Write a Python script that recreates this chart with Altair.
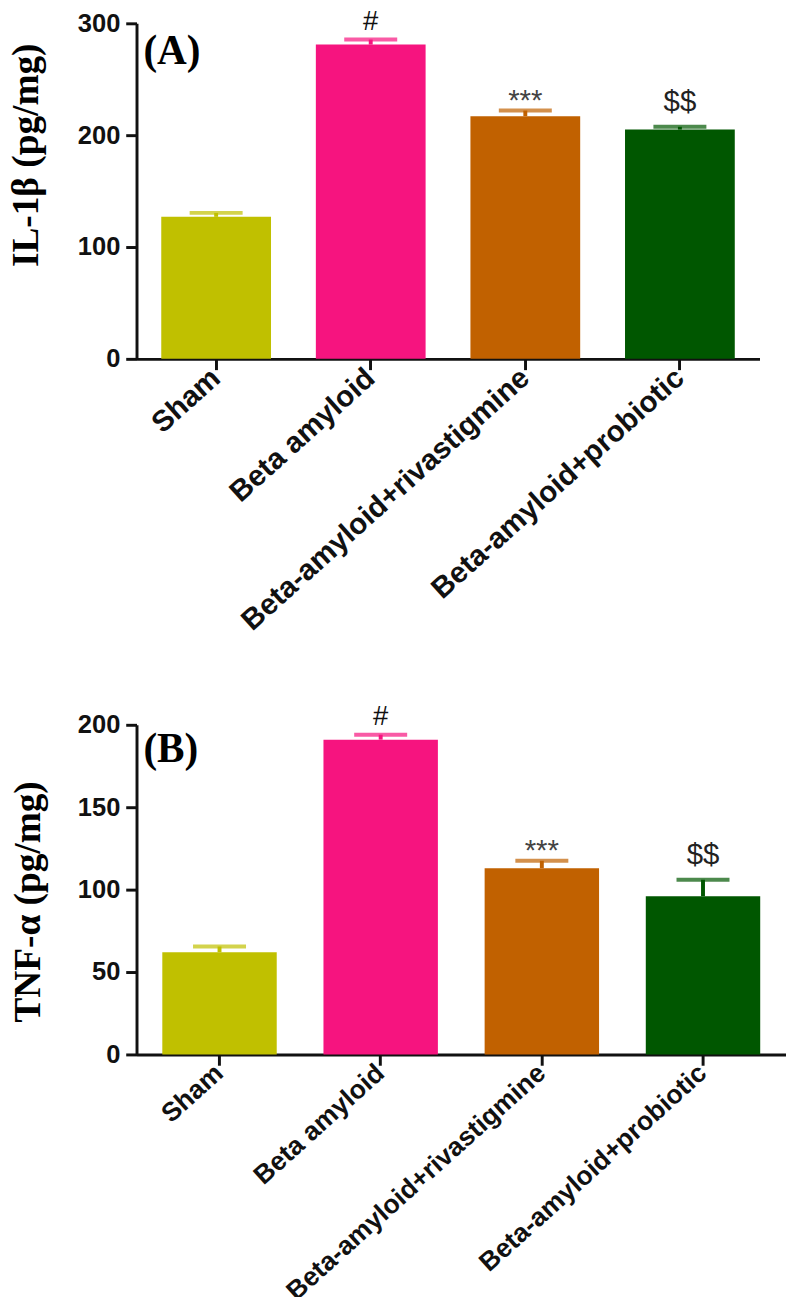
import altair as alt
import pandas as pd

groups = ["Sham", "Beta amyloid", "Beta-amyloid+rivastigmine", "Beta-amyloid+probiotic"]
bar_colors = ["#C0C000", "#F6147F", "#C16100", "#005700"]
sig_labels = ["", "#", "***", "$$"]

il1b_mean = [127, 281, 217, 205]
il1b_sem = [3.5, 4.5, 5, 2.5]
il1b_ticks = [0, 100, 200, 300]

tnf_mean = [62, 191, 113, 96]
tnf_sem = [3.5, 3, 4.5, 10]
tnf_ticks = [0, 50, 100, 150, 200]

panel_letters = ["(A)", "(B)"]
y_titles = ["IL-1β (pg/mg)", "TNF-α (pg/mg)"]

# style of each significance symbol: font size, weight, offset, colour
sig_style = {
    "#": (28, "normal", -10, "#111111"),
    "***": (30, "normal", -1, "#444444"),
    "$$": (30, "normal", -16, "#222222"),
}


def panel(means, sems, ticks, letter, ytitle, w, h, title_x, title_y, letter_y, label_fs):
    df = pd.DataFrame({"group": groups, "mean": means, "sem": sems, "sig": sig_labels})
    base = alt.Chart(df).transform_calculate(upper="datum.mean + datum.sem")
    xscale = alt.Scale(domain=groups, paddingInner=0.29, paddingOuter=0.16)
    yscale = alt.Scale(domain=[ticks[0], ticks[-1]], nice=False)
    color = alt.Color("group:N", scale=alt.Scale(domain=groups, range=bar_colors), legend=None)

    x_axis = alt.Axis(
        labelAngle=-42, labelAlign="right", labelBaseline="middle",
        labelFont="Liberation Sans", labelFontWeight="bold", labelFontSize=label_fs,
        labelColor="#111111", labelLimit=600, labelPadding=4,
        tickSize=11, tickWidth=3, tickColor="#111111",
        domainWidth=3, domainColor="#111111", title=None, grid=False,
    )
    y_axis = alt.Axis(
        values=ticks, tickSize=11, tickWidth=3, tickColor="#111111",
        domainWidth=3, domainColor="#111111", grid=False,
        labelFont="Liberation Sans", labelFontWeight="bold", labelFontSize=26,
        labelColor="#111111", labelPadding=6,
        title=ytitle, titleFont="Liberation Serif", titleFontWeight="bold",
        titleFontSize=38, titleColor="#000000", titleAngle=-90,
        titleX=title_x, titleY=title_y, titleAlign="center", titleBaseline="middle",
    )

    def X():
        return alt.X("group:N", scale=xscale, sort=groups, axis=x_axis, title=None)

    def Y(field):
        return alt.Y(field, scale=yscale, axis=y_axis, title=ytitle)

    bars = base.mark_bar().encode(x=X(), y=Y("mean:Q"), color=color)
    stems = base.mark_rule(strokeWidth=4).encode(x=X(), y=Y("mean:Q"), y2="upper:Q", color=color)
    caps = base.mark_tick(orient="horizontal", size=54, thickness=4).encode(
        x=X(), y=Y("upper:Q"), color=color
    )
    layers = [bars, stems, caps]
    for sym, (fs, fw, dy, col) in sig_style.items():
        layers.append(
            base.transform_filter(alt.datum.sig == sym)
            .mark_text(font="Liberation Sans", fontSize=fs, fontWeight=fw, dy=dy,
                       baseline="alphabetic", align="center", color=col)
            .encode(x=X(), y=Y("upper:Q"), text="sig:N")
        )
    lab = alt.Chart(pd.DataFrame({"t": [letter]})).mark_text(
        font="Liberation Serif", fontSize=42, fontWeight="bold", align="left",
        baseline="alphabetic", color="#000000",
    ).encode(x=alt.value(7), y=alt.value(letter_y), text="t:N")
    layers.append(lab)
    return alt.layer(*layers).properties(width=w, height=h)


pa = panel(il1b_mean, il1b_sem, il1b_ticks, panel_letters[0], y_titles[0], 635, 342, -112, 134, 41, 30)
pb = panel(tnf_mean, tnf_sem, tnf_ticks, panel_letters[1], y_titles[1], 662, 336, -110, 180, 38, 27)

chart = (
    alt.vconcat(pa, pb, spacing=68)
    .properties(padding={"left": 0, "top": -13, "right": 0, "bottom": 0}, background="white")
    .configure_view(stroke=None)
)

chart.save("out.html", embed_options={"renderer": "svg", "actions": False})
